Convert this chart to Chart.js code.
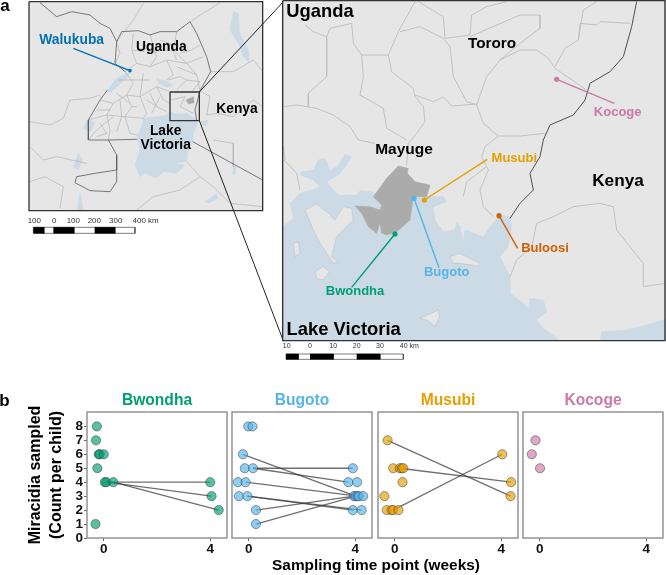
<!DOCTYPE html>
<html>
<head>
<meta charset="utf-8">
<title>Miracidia sampling sites</title>
<script src="https://cdn.jsdelivr.net/npm/chart.js@4/dist/chart.umd.min.js"></script>
<style>
  html, body { margin: 0; padding: 0; background: #fff; }
  #page { position: relative; width: 666px; height: 575px; overflow: hidden; }
  canvas { position: absolute; }
</style>
</head>
<body>
<div id="page">
  <canvas id="overview" width="666" height="575" style="left:0;top:0"></canvas>
  <canvas id="detail" width="386" height="365" style="left:280px;top:0"></canvas>
  <canvas id="panel1" width="230" height="165" style="left:0;top:391px"></canvas>
  <canvas id="panel2" width="144" height="165" style="left:231px;top:391px"></canvas>
  <canvas id="panel3" width="144" height="165" style="left:377px;top:391px"></canvas>
  <canvas id="panel4" width="144" height="165" style="left:522px;top:391px"></canvas>
</div>
<script>
// panel b: sampling data
const yTicks = [0, 1, 2, 3, 4, 5, 6, 7, 8];
const xTicks = [0, 4];

const bwondhaWeeks = [-0.26, -0.29, -0.19, -0.15, 0, -0.24, 0.04, 0.1, 0.36, -0.31, 4, 4.05, 4.32];
const bwondhaCounts = [8, 7, 6, 6, 6, 5, 4, 4, 4, 1, 4, 3, 2];
const bwondhaLinks = [[6, 10], [7, 11], [8, 12]];

const bugotoWeeks = [-0.02, 0.14, -0.22, -0.15, 0.16, -0.41, -0.12, -0.37, -0.05, 0.27, 0.27, 3.91, 3.74, 4.07, 3.95, 4.02, 4.09, 4.14, 4.3, 3.91, 4.24];
const bugotoCounts = [8, 8, 6, 5, 5, 4, 4, 3, 3, 2, 1, 5, 4, 4, 3, 3, 3, 3, 3, 2, 2];
const bugotoLinks = [[2, 15], [4, 11], [4, 12], [6, 16], [8, 19], [8, 20], [9, 14], [10, 15]];

const musubiWeeks = [-0.27, -0.06, 0.19, 0.26, 0.32, 0.29, -0.39, -0.3, -0.12, -0.06, 0.14, 4.04, 4.37, 4.35];
const musubiCounts = [7, 5, 5, 5, 5, 4, 3, 2, 2, 2, 2, 6, 4, 3];
const musubiLinks = [[0, 13], [2, 12], [9, 11]];

const kocogeWeeks = [-0.16, -0.3, 0.01];
const kocogeCounts = [7, 6, 5];
const kocogeLinks = [];

// overview map outlines, in units of a third of a page pixel
const overviewFrame = [[87, 5], [788, 5], [788, 632], [87, 632], [87, 5]];
const overviewLakes = [
  [[430, 355], [470, 350], [500, 345], [508, 335], [535, 342], [560, 340], [590, 360], [590, 375], [580, 400], [578, 425], [565, 450], [560, 485], [520, 490], [555, 495], [530, 520], [490, 515], [470, 535], [435, 520], [420, 530], [405, 495], [420, 450], [412, 405], [425, 380], [430, 355]],
  [[322, 270], [350, 235], [390, 215], [385, 230], [350, 260], [330, 280], [322, 270]],
  [[470, 235], [500, 245], [520, 255], [500, 262], [475, 250], [470, 235]],
  [[700, 35], [715, 40], [718, 95], [745, 150], [748, 190], [730, 170], [715, 130], [690, 90], [700, 35]],
  [[250, 385], [265, 355], [285, 370], [270, 395], [250, 385]],
  [[220, 500], [235, 460], [248, 480], [235, 510], [220, 500]],
  [[240, 575], [250, 632], [232, 632], [240, 575]],
  [[615, 605], [650, 580], [655, 595], [625, 610], [615, 605]],
  [[600, 365], [625, 360], [620, 375], [605, 378], [600, 365]],
  [[700, 500], [708, 497], [706, 525], [698, 522], [700, 500]]
];
const overviewDistrict = [[558, 300], [580, 290], [582, 308], [565, 312], [558, 300]];
const overviewThin = [
  [[350, 125], [360, 160], [345, 190]], [[375, 215], [410, 190], [450, 200], [500, 180], [560, 190], [610, 170]],
  [[375, 215], [400, 250], [380, 285], [420, 290], [470, 260], [510, 275]], [[400, 100], [395, 150], [410, 190]],
  [[450, 105], [470, 170], [450, 200]], [[530, 95], [520, 150], [560, 190], [590, 225], [600, 272]],
  [[500, 180], [520, 225], [500, 240]], [[300, 300], [340, 310], [380, 285]],
  [[265, 360], [320, 345], [375, 350], [430, 355]], [[340, 310], [320, 345], [330, 390], [325, 420]],
  [[420, 290], [440, 340], [430, 355]], [[380, 285], [395, 320], [375, 350], [390, 400], [412, 405]],
  [[470, 260], [490, 300], [510, 310]], [[530, 200], [590, 225]], [[560, 240], [600, 245], [575, 275]],
  [[340, 350], [290, 390], [265, 420]], [[290, 330], [330, 330]], [[510, 300], [555, 290], [540, 320], [580, 340]],
  [[440, 300], [470, 320], [500, 335]], [[600, 272], [630, 290], [620, 345], [650, 340], [700, 350], [760, 300], [788, 320]],
  [[420, 130], [450, 160], [490, 150], [520, 150]], [[355, 240], [410, 240], [450, 240]], [[430, 220], [420, 290]],
  [[480, 290], [455, 340]], [[540, 230], [560, 240], [530, 270]],
  [[90, 365], [150, 375], [190, 355], [210, 300], [270, 295], [300, 285]], [[90, 440], [130, 480], [170, 470], [260, 490]],
  [[90, 545], [135, 530], [190, 560], [180, 625]], [[632, 215], [700, 215], [760, 180], [788, 215]],
  [[570, 65], [660, 8]], [[410, 630], [460, 590], [540, 570], [600, 530], [640, 560], [690, 610], [788, 620]],
  [[350, 125], [400, 60], [430, 10]], [[560, 485], [600, 530]], [[640, 420], [700, 430], [700, 500]],
  [[300, 370], [320, 400], [290, 410]], [[360, 300], [365, 350], [350, 395]], [[410, 320], [395, 320]],
  [[540, 160], [575, 150], [600, 135]], [[480, 120], [510, 130], [530, 180]], [[395, 150], [435, 155]],
  [[350, 280], [390, 310]], [[450, 280], [470, 320]], [[505, 240], [540, 230]]
];
const overviewBorders = [
  [[120, 8], [170, 50], [215, 35], [270, 45], [300, 70], [330, 85], [350, 125], [365, 95], [415, 92], [450, 105], [480, 95], [530, 95], [570, 65], [590, 100], [620, 170], [632, 215], [600, 272], [585, 330], [590, 360]],
  [[350, 125], [345, 190], [375, 215]], [[322, 270], [300, 300], [265, 360], [265, 420], [325, 420], [412, 418]],
  [[325, 420], [350, 465], [350, 510], [285, 520], [230, 530], [225, 548], [270, 572], [330, 575], [350, 545], [350, 510]],
  [[578, 425], [788, 540]]
];
const overviewInset = [[510, 276], [598, 276], [598, 362], [510, 362], [510, 276]];
const connectorTop = [[598, 276], [855, 0]];
const connectorBottom = [[598, 362], [849, 1020]];
const walukubaLeader = [[220, 145], [390, 212]];
const walukubaDot = [[390, 212]];
const overviewScaleBlack = [[[100, 682], [132, 682], [132, 700], [100, 700]], [[160, 682], [222, 682], [222, 700], [160, 700]], [[284, 682], [345, 682], [345, 700], [284, 700]]];
const overviewScaleBox = [[100, 682], [405, 682], [405, 700], [100, 700], [100, 682]];

// detail map outlines, in the same units
const detailFrame = [[8, 2], [1155, 2], [1155, 1022], [8, 1022], [8, 2]];
const detailLake = [[8, 680], [40, 655], [30, 610], [60, 580], [100, 568], [120, 560], [100, 540], [60, 525], [65, 515], [100, 510], [115, 480], [135, 475], [150, 510], [175, 495], [195, 462], [215, 470], [200, 495], [175, 525], [140, 545], [160, 570], [175, 585], [230, 585], [240, 572], [275, 575], [320, 600], [400, 590], [450, 590], [490, 590], [500, 605], [460, 620], [465, 660], [490, 695], [525, 690], [530, 665], [540, 680], [550, 725], [555, 690], [610, 710], [630, 680], [660, 645], [690, 650], [695, 680], [685, 740], [660, 770], [690, 830], [690, 880], [730, 910], [745, 925], [750, 895], [790, 900], [800, 935], [770, 960], [790, 985], [840, 1022], [8, 1022], [8, 680]];
const detailLakeEast = [[960, 1022], [965, 995], [1040, 990], [1100, 975], [1155, 958], [1155, 1022], [960, 1022]];
const detailIslands = [
  [[75, 630], [110, 612], [145, 640], [165, 660], [190, 620], [215, 625], [220, 660], [170, 710], [155, 770], [175, 785], [160, 790], [120, 730], [100, 690], [75, 630]],
  [[40, 730], [55, 725], [60, 760], [45, 770], [40, 730]],
  [[105, 815], [130, 800], [148, 815], [130, 840], [110, 835], [105, 815]],
  [[510, 770], [540, 760], [600, 790], [595, 798], [540, 790], [520, 790], [510, 770]],
  [[420, 955], [475, 930], [478, 950], [465, 980], [445, 962], [420, 955]]
];
const mayugeDistrict = [[355, 498], [385, 505], [382, 520], [405, 545], [450, 555], [440, 590], [400, 590], [390, 660], [350, 695], [320, 705], [305, 700], [300, 670], [290, 700], [265, 680], [245, 640], [225, 618], [270, 620], [300, 630], [305, 615], [280, 590], [320, 535], [355, 498]];
const detailThin = [
  [[75, 75], [100, 95], [140, 110], [150, 85], [215, 70], [220, 130], [245, 165], [325, 165], [355, 95], [405, 5]],
  [[140, 110], [140, 230], [85, 280], [85, 320]],
  [[245, 165], [250, 230], [240, 285], [310, 325], [320, 385], [380, 420]],
  [[12, 320], [50, 315], [110, 325], [160, 345], [210, 380], [235, 420], [285, 430]],
  [[325, 165], [335, 215], [400, 265], [405, 290], [430, 320], [435, 365], [410, 400], [385, 430], [380, 495]],
  [[360, 95], [420, 80], [490, 115], [510, 140], [520, 230], [560, 305], [590, 315]],
  [[415, 5], [490, 50], [495, 115], [570, 105], [575, 45], [620, 20], [680, 5]],
  [[405, 285], [460, 305], [490, 290], [515, 318], [590, 312]],
  [[590, 315], [620, 230], [660, 180], [720, 150], [770, 150], [805, 175], [825, 205], [920, 270]],
  [[590, 315], [610, 370], [655, 408], [720, 408], [795, 400]],
  [[655, 408], [615, 440], [605, 470], [625, 510], [600, 570], [610, 620], [640, 650]],
  [[825, 200], [855, 145], [895, 120], [900, 70], [950, 75], [960, 65], [1050, 70]],
  [[570, 110], [720, 45], [780, 45], [780, 85], [720, 130], [660, 180]],
  [[1090, 860], [1155, 850]],
  [[1090, 860], [1090, 790], [1010, 690], [1000, 620], [960, 610], [880, 620], [820, 650], [770, 670], [755, 740], [710, 780], [690, 830]],
  [[12, 480], [50, 520], [60, 570]],
  [[10, 440], [15, 480]],
  [[950, 5], [910, 30], [895, 120]],
  [[620, 500], [560, 545], [550, 590]]
];
const kenyaBorder = [[1070, 5], [1055, 80], [1030, 170], [990, 215], [930, 250], [915, 300], [880, 345], [810, 375], [790, 420], [780, 470], [750, 520], [760, 570], [720, 610], [690, 655]];
const detailScaleBlack = [[[18, 1062], [55, 1062], [55, 1078], [18, 1078]], [[90, 1062], [160, 1062], [160, 1078], [90, 1078]], [[230, 1062], [300, 1062], [300, 1078], [230, 1078]]];
const detailScaleBox = [[18, 1062], [370, 1062], [370, 1078], [18, 1078], [18, 1062]];

const siteColors = { bwondha: "#009E73", bugoto: "#56B4E9", musubi: "#E69F00", kocoge: "#CC79A7", buloosi: "#D55E00", walukuba: "#0072B2" };
const sites = [
  { color: siteColors.kocoge, dot: [830, 238], end: [1003, 310] },
  { color: siteColors.musubi, dot: [433, 600], end: [622, 478] },
  { color: siteColors.bugoto, dot: [402, 595], end: [477, 803] },
  { color: siteColors.bwondha, dot: [345, 702], end: [215, 862] },
  { color: siteColors.buloosi, dot: [657, 647], end: [713, 745] }
];

const overviewLabels = [
  { text: "a", x: 15, y: 20, size: 17 },
  { text: "b", x: 13, y: 1205, size: 17 },
  { text: "Walukuba", x: 215, y: 122, size: 13.8, color: siteColors.walukuba },
  { text: "Uganda", x: 484, y: 142, size: 13.8 },
  { text: "Kenya", x: 711, y: 329, size: 13.8 },
  { text: "Lake", x: 497, y: 394, size: 13.8 },
  { text: "Victoria", x: 497, y: 437, size: 13.8 },
  { text: "100", x: 103, y: 662, size: 8, weight: "normal", color: "#333" },
  { text: "0", x: 163, y: 662, size: 8, weight: "normal", color: "#333" },
  { text: "100", x: 220, y: 662, size: 8, weight: "normal", color: "#333" },
  { text: "200", x: 283, y: 662, size: 8, weight: "normal", color: "#333" },
  { text: "300", x: 347, y: 662, size: 8, weight: "normal", color: "#333" },
  { text: "400 km", x: 437, y: 662, size: 8, weight: "normal", color: "#333" },
  { text: "Sampling time point (weeks)", x: 1128, y: 1697, size: 15.4 }
];
const detailLabels = [
  { text: "Uganda", x: 120, y: 35, size: 18.4 },
  { text: "Tororo", x: 636, y: 132, size: 15.3 },
  { text: "Mayuge", x: 372, y: 448, size: 15.5 },
  { text: "Kenya", x: 1014, y: 545, size: 17.2 },
  { text: "Lake Victoria", x: 191, y: 990, size: 18.4 },
  { text: "Kocoge", x: 1013, y: 336, size: 13, color: siteColors.kocoge },
  { text: "Musubi", x: 703, y: 474, size: 13, color: siteColors.musubi },
  { text: "Bugoto", x: 500, y: 818, size: 13, color: siteColors.bugoto },
  { text: "Bwondha", x: 225, y: 875, size: 13, color: siteColors.bwondha },
  { text: "Buloosi", x: 795, y: 746, size: 13, color: siteColors.buloosi },
  { text: "10", x: 20, y: 1038, size: 7, weight: "normal", color: "#333" },
  { text: "0", x: 90, y: 1038, size: 7, weight: "normal", color: "#333" },
  { text: "10", x: 160, y: 1038, size: 7, weight: "normal", color: "#333" },
  { text: "20", x: 230, y: 1038, size: 7, weight: "normal", color: "#333" },
  { text: "30", x: 300, y: 1038, size: 7, weight: "normal", color: "#333" },
  { text: "40 km", x: 388, y: 1038, size: 7, weight: "normal", color: "#333" }
];

const FONT = '"Liberation Sans", Arial, sans-serif';
Chart.defaults.font.family = FONT;
Chart.defaults.devicePixelRatio = 1;

function toPoints(list) {
  return list.map(p => ({ x: p[0], y: p[1] }));
}
function shape(list, fillColor, edgeColor, edgeWidth) {
  return {
    data: toPoints(list), showLine: true, pointRadius: 0, tension: 0, fill: "shape",
    backgroundColor: fillColor, borderColor: edgeColor || fillColor, borderWidth: edgeWidth === undefined ? 0.5 : edgeWidth
  };
}
function path(list, color, width) {
  return { data: toPoints(list), showLine: true, pointRadius: 0, tension: 0, fill: false, borderColor: color, borderWidth: width };
}
function dots(list, color, radius) {
  return { data: toPoints(list), showLine: false, pointRadius: radius, backgroundColor: color, borderWidth: 0 };
}

const mapLabelPlugin = {
  id: "mapLabels",
  afterDatasetsDraw(chart, args, opts) {
    const ctx = chart.ctx;
    ctx.save();
    ctx.textBaseline = "middle";
    ctx.textAlign = "center";
    opts.items.forEach(item => {
      ctx.font = (item.weight || "bold") + " " + item.size + "px " + FONT;
      ctx.fillStyle = item.color || "#000";
      ctx.fillText(item.text, chart.scales.x.getPixelForValue(item.x), chart.scales.y.getPixelForValue(item.y));
    });
    ctx.restore();
  }
};

function drawMap(id, layers, labels, width, height) {
  // first layer in the list goes to the bottom
  layers.forEach((layer, i) => { layer.order = -i; });
  return new Chart(document.getElementById(id), {
    type: "scatter",
    data: { datasets: layers },
    plugins: [mapLabelPlugin],
    options: {
      responsive: false, animation: false, events: [],
      layout: { padding: 0, autoPadding: false },
      scales: {
        x: { type: "linear", display: false, min: 0, max: width },
        y: { type: "linear", display: false, min: 0, max: height, reverse: true }
      },
      plugins: { legend: { display: false }, tooltip: { enabled: false }, mapLabels: { items: labels } }
    }
  });
}

const LAND = "#E6E6E6", WATER = "#CBDAE5", THIN = "#BDBDBD", BORDER = "#5a5a5a", FRAME = "#333";

drawMap("overview", [
  shape(overviewFrame, LAND, LAND),
  ...overviewLakes.map(l => shape(l, WATER)),
  shape(overviewDistrict, "#A8A8A8"),
  ...overviewThin.map(l => path(l, "#ADADAD", 0.6)),
  ...overviewBorders.map(l => path(l, BORDER, 0.8)),
  path(overviewFrame, FRAME, 1.3),
  path(overviewInset, FRAME, 1.3),
  path(connectorTop, "#222", 1),
  path(connectorBottom, "#222", 1),
  path(walukubaLeader, siteColors.walukuba, 1.3),
  dots(walukubaDot, siteColors.walukuba, 1.8),
  shape(overviewScaleBox, "#fff", "#444", 0.7),
  ...overviewScaleBlack.map(l => shape(l, "#000"))
], overviewLabels, 1998, 1725);

drawMap("detail", [
  shape(detailFrame, LAND, LAND),
  shape(detailLake, WATER),
  shape(detailLakeEast, WATER),
  ...detailIslands.map(l => shape(l, LAND, "#aab4ba", 0.4)),
  ...detailThin.map(l => path(l, THIN, 0.9)),
  path(kenyaBorder, "#4f4f4f", 1),
  shape(mayugeDistrict, "#ABABAB"),
  path(detailFrame, FRAME, 1.4),
  shape(detailScaleBox, "#fff", "#444", 0.7),
  ...detailScaleBlack.map(l => shape(l, "#000")),
  ...sites.map(s => path([s.dot, s.end], s.color, 1.4)),
  ...sites.map(s => dots([s.dot], s.color, 2.6))
], detailLabels, 1158, 1095);

const panelFrame = {
  id: "panelFrame",
  afterDraw(chart) {
    const a = chart.chartArea, ctx = chart.ctx;
    ctx.save();
    ctx.strokeStyle = "#8c8c8c";
    ctx.lineWidth = 1.4;
    ctx.strokeRect(a.left, a.top, a.right - a.left, a.bottom - a.top);
    ctx.restore();
  }
};

function drawPanel(id, name, color, weeks, counts, links, showY) {
  const fillColor = Chart.helpers.color(color).alpha(0.66).rgbString();
  const datasets = [{
    data: weeks.map((w, i) => ({ x: w, y: counts[i] })),
    pointRadius: 4.6, pointBackgroundColor: fillColor,
    pointBorderColor: "rgba(50,50,50,0.6)", pointBorderWidth: 0.8, order: 0
  }];
  links.forEach(link => {
    datasets.push({
      data: link.map(i => ({ x: weeks[i], y: counts[i] })),
      showLine: true, pointRadius: 0, fill: false, tension: 0,
      borderColor: "rgba(55,55,55,0.72)", borderWidth: 1.3, order: 1
    });
  });
  return new Chart(document.getElementById(id), {
    type: "scatter",
    data: { datasets },
    plugins: [panelFrame],
    options: {
      responsive: false, animation: false, events: [],
      layout: { padding: { left: showY ? 0 : 1, right: 3, top: 0, bottom: 0 }, autoPadding: false },
      scales: {
        x: {
          type: "linear", min: -0.63, max: 4.63,
          afterBuildTicks: s => { s.ticks = xTicks.map(v => ({ value: v })); },
          afterFit: s => { s.height = 18; },
          grid: { drawOnChartArea: false, tickLength: 3, tickColor: "#666" },
          border: { display: false },
          ticks: { color: "#111", font: { size: 13.5, weight: "bold" }, padding: 0, maxRotation: 0, autoSkip: false }
        },
        y: {
          type: "linear", display: showY, min: 0, max: 9.03,
          afterBuildTicks: s => { s.ticks = yTicks.map(v => ({ value: v })); },
          afterFit: s => { s.width = showY ? 87 : 0; },
          grid: { drawOnChartArea: false, tickLength: 3, tickColor: "#666" },
          border: { display: false },
          ticks: { color: "#111", font: { size: 13.5, weight: "bold" }, padding: 1, autoSkip: false },
          title: {
            display: true, text: ["Miracidia sampled", "(Count per child)"], color: "#000",
            font: { size: 16, weight: "bold", lineHeight: 1.3 }, padding: { top: 25, bottom: 0 }
          }
        }
      },
      plugins: {
        legend: { display: false }, tooltip: { enabled: false },
        title: {
          display: true, text: name, color, fullSize: false,
          font: { size: 15.6, weight: "bold" }, padding: { top: 0, bottom: 2.3 }
        }
      }
    }
  });
}

drawPanel("panel1", "Bwondha", siteColors.bwondha, bwondhaWeeks, bwondhaCounts, bwondhaLinks, true);
drawPanel("panel2", "Bugoto", siteColors.bugoto, bugotoWeeks, bugotoCounts, bugotoLinks, false);
drawPanel("panel3", "Musubi", siteColors.musubi, musubiWeeks, musubiCounts, musubiLinks, false);
drawPanel("panel4", "Kocoge", siteColors.kocoge, kocogeWeeks, kocogeCounts, kocogeLinks, false);
</script>
</body>
</html>
